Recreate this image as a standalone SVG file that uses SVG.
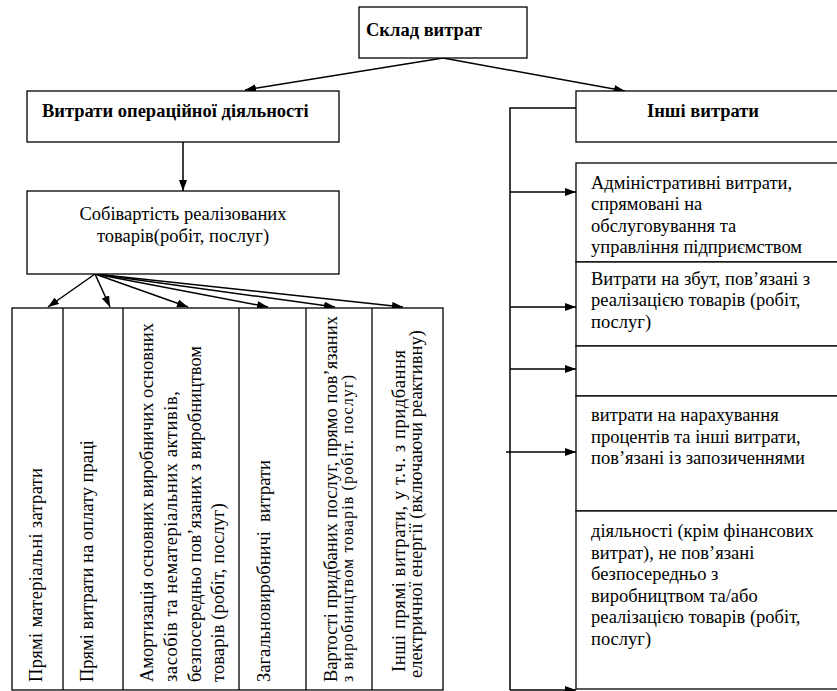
<svg xmlns="http://www.w3.org/2000/svg" width="837" height="691" viewBox="0 0 837 691">
<style>
.box{fill:#fff;stroke:#000;stroke-width:1.3}
.t{font-size:18.5px;fill:#000}
.b{font-weight:bold}
.c{stroke:#000;stroke-width:1.5;fill:none}
.d{stroke:#000;stroke-width:1.3}
.a{marker-end:url(#ah)}
</style>
<defs>
<marker id="ah" viewBox="0 0 11 8" refX="11" refY="4" markerWidth="11" markerHeight="8" markerUnits="userSpaceOnUse" orient="auto">
<path d="M0,0 L11,4 L0,8 Z" fill="#000"/>
</marker>
</defs>
<rect width="837" height="691" fill="#fff"/>
<g id="connectors">
<line class="c a" x1="443" y1="58" x2="245" y2="90"/>
<line class="c a" x1="443" y1="58" x2="625" y2="91"/>
<line class="c a" x1="183" y1="142" x2="183" y2="191"/>
<line class="c a" x1="95" y1="274" x2="48" y2="307"/>
<line class="c a" x1="95" y1="274" x2="110" y2="307"/>
<line class="c a" x1="95" y1="274" x2="188" y2="307"/>
<line class="c a" x1="95" y1="274" x2="268" y2="307"/>
<line class="c a" x1="95" y1="274" x2="335" y2="307"/>
<line class="c a" x1="95" y1="274" x2="403" y2="307"/>
<polyline class="c" points="576,108 510,108 510,690"/>
<line class="c a" x1="510" y1="192" x2="576" y2="192"/>
<line class="c a" x1="510" y1="307" x2="576" y2="307"/>
<line class="c a" x1="510" y1="369" x2="576" y2="369"/>
<line class="c a" x1="506" y1="452" x2="576" y2="452"/>
<line class="c a" x1="510" y1="690" x2="576" y2="690"/>
</g>
<g id="n-sklad">
<rect class="box" x="359" y="7" width="168" height="51"/>
<text class="t b" font-family="Liberation Serif" x="366" y="36">Склад витрат</text>
</g>
<g id="n-oper">
<rect class="box" x="27" y="91" width="312" height="51"/>
<text class="t b" font-family="Liberation Serif" x="42" y="117">Витрати операційної діяльності</text>
</g>
<g id="n-inshi">
<rect class="box" x="576" y="91" width="270" height="51"/>
<text class="t b" font-family="Liberation Serif" x="647" y="117">Інші витрати</text>
</g>
<g id="n-sobi">
<rect class="box" x="27" y="191" width="312" height="83"/>
<text class="t" font-family="Liberation Serif" x="183" y="220" text-anchor="middle">Собівартість реалізованих</text>
<text class="t" font-family="Liberation Serif" x="183" y="242" text-anchor="middle">товарів(робіт, послуг)</text>
</g>
<g id="n-table">
<rect class="box" x="12" y="308" width="431" height="382"/>
<line class="d" x1="63" y1="308" x2="63" y2="690"/>
<line class="d" x1="123" y1="308" x2="123" y2="690"/>
<line class="d" x1="239" y1="308" x2="239" y2="690"/>
<line class="d" x1="306" y1="308" x2="306" y2="690"/>
<line class="d" x1="372" y1="308" x2="372" y2="690"/>
</g>
<g id="n-col1"><text class="t" font-family="Liberation Serif" transform="translate(42,682) rotate(-90)" textLength="214">Прямі матеріальні затрати</text></g>
<g id="n-col2"><text class="t" font-family="Liberation Serif" transform="translate(93,682) rotate(-90)" textLength="242">Прямі витрати на оплату праці</text></g>
<g id="n-col3">
<text class="t" font-family="Liberation Serif" transform="translate(153,682) rotate(-90)" textLength="359">Амортизація основних виробничих основних</text>
<text class="t" font-family="Liberation Serif" transform="translate(177,682) rotate(-90)" textLength="291">засобів та нематеріальних активів,</text>
<text class="t" font-family="Liberation Serif" transform="translate(201,682) rotate(-90)" textLength="336">безпосередньо пов’язаних з виробництвом</text>
<text class="t" font-family="Liberation Serif" transform="translate(224,682) rotate(-90)" textLength="179">товарів (робіт, послуг)</text>
</g>
<g id="n-col4"><text class="t" font-family="Liberation Serif" transform="translate(270,682) rotate(-90)" textLength="222" xml:space="preserve">Загальновиробничі  витрати</text></g>
<g id="n-col5">
<text class="t" font-family="Liberation Serif" transform="translate(337,682) rotate(-90)" textLength="366">Вартості придбаних послуг, прямо пов’язаних</text>
<text class="t" font-family="Liberation Serif" style="font-size:16px" transform="translate(353,682) rotate(-90)" textLength="307">з виробництвом товарів (робіт. послуг)</text>
</g>
<g id="n-col6">
<text class="t" font-family="Liberation Serif" transform="translate(405,672) rotate(-90)" textLength="322">Інші прямі витрати, у т.ч. з придбання</text>
<text class="t" font-family="Liberation Serif" transform="translate(422,678) rotate(-90)" textLength="348">електричної енергії (включаючи реактивну)</text>
</g>
<g id="n-admin">
<rect class="box" x="576" y="163" width="270" height="99"/>
<text class="t" font-family="Liberation Serif" x="591" y="189">Адміністративні витрати,</text>
<text class="t" font-family="Liberation Serif" x="591" y="210">спрямовані на</text>
<text class="t" font-family="Liberation Serif" x="591" y="232">обслуговування та</text>
<text class="t" font-family="Liberation Serif" x="591" y="253">управління підприємством</text>
</g>
<g id="n-zbut">
<rect class="box" x="576" y="262" width="270" height="84"/>
<text class="t" font-family="Liberation Serif" x="591" y="285">Витрати на збут, пов’язані з</text>
<text class="t" font-family="Liberation Serif" x="591" y="306">реалізацією товарів (робіт,</text>
<text class="t" font-family="Liberation Serif" x="591" y="328">послуг)</text>
</g>
<g id="n-empty">
<rect class="box" x="576" y="346" width="270" height="50"/>
</g>
<g id="n-proc">
<rect class="box" x="576" y="396" width="270" height="115"/>
<text class="t" font-family="Liberation Serif" x="591" y="421">витрати на нарахування</text>
<text class="t" font-family="Liberation Serif" x="591" y="443">процентів та інші витрати,</text>
<text class="t" font-family="Liberation Serif" x="591" y="464">пов’язані із запозиченнями</text>
</g>
<g id="n-inshi-op">
<rect class="box" x="576" y="511" width="270" height="178"/>
<text class="t" font-family="Liberation Serif" x="591" y="537">діяльності (крім фінансових</text>
<text class="t" font-family="Liberation Serif" x="591" y="559">витрат), не пов’язані</text>
<text class="t" font-family="Liberation Serif" x="591" y="580">безпосередньо з</text>
<text class="t" font-family="Liberation Serif" x="591" y="602">виробництвом та/або</text>
<text class="t" font-family="Liberation Serif" x="591" y="623">реалізацією товарів (робіт,</text>
<text class="t" font-family="Liberation Serif" x="591" y="645">послуг)</text>
</g>
</svg>
